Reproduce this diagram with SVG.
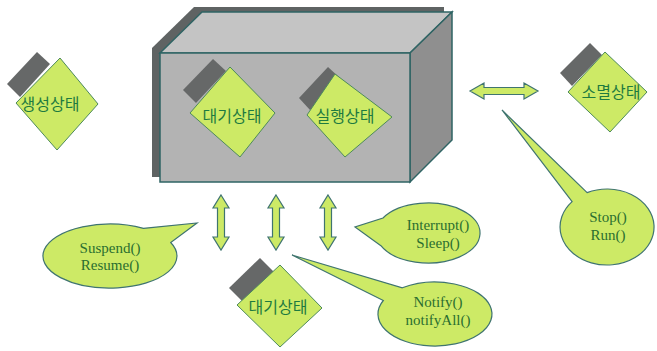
<svg xmlns="http://www.w3.org/2000/svg" width="657" height="351" viewBox="0 0 657 351">
  <style>
    .state { fill: #cdea66; stroke: #4d8a5c; stroke-width: 1; }
    .tab { fill: #666868; }
    .label { font-family: "Noto Sans CJK KR", "Noto Sans", sans-serif; font-size: 16px; fill: #1e7a40; text-anchor: middle; }
    .callout { fill: #cdea66; stroke: #3f7470; stroke-width: 1.2; }
    .note { font-family: "Liberation Serif", "DejaVu Serif", serif; font-size: 15px; fill: #2a6e30; text-anchor: middle; }
    .arrow { fill: #cdea66; stroke: #3f7470; stroke-width: 1.2; stroke-linejoin: miter; }
  </style>
  <defs>
    <!-- vertical double-headed block arrow, 55px tall, origin at top tip -->
    <path id="vArrow" d="M0 0 L8 13 L3.5 13 L3.5 42 L8 42 L0 55 L-8 42 L-3.5 42 L-3.5 13 L-8 13 Z"/>
  </defs>
  <rect width="657" height="351" fill="#ffffff"/>

  <!-- 3D box holding the active states -->
  <g id="container">
    <polygon points="152,48 194,7 444,7 444,135 402,177 152,177" fill="#5f6363"/>
    <polygon points="160,53 202,12 452,12 410,53" fill="#c4c4c4" stroke="#2f6464" stroke-width="1.5"/>
    <polygon points="410,53 452,12 452,140 410,182" fill="#8f8f8f" stroke="#2f6464" stroke-width="1.5"/>
    <rect x="160" y="53" width="250" height="129" fill="#b3b3b3" stroke="#2f6464" stroke-width="1.5"/>
  </g>

  <g id="state-new">
    <polygon class="tab" points="7,84 37,52 50,64 20,97"/>
    <polygon class="state" points="60,58 98,104 57,150 16,103"/>
    <text class="label" x="50" y="110">생성상태</text>
  </g>

  <g id="state-waiting">
    <polygon class="tab" points="183,90 213,59 226,71 196,103"/>
    <polygon class="state" points="230,67 275,113 240,157 190,113"/>
    <text class="label" x="232" y="122">대기상태</text>
  </g>

  <g id="state-running">
    <polygon class="tab" points="299,98 328,67 340,78 310,110"/>
    <polygon class="state" points="335,74 392,117 345,157 307,115"/>
    <text class="label" x="345" y="122">실행상태</text>
  </g>

  <g id="state-dead">
    <polygon class="tab" points="560,73 590,43 602,55 572,86"/>
    <polygon class="state" points="605,52 647,92 610,132 568,92"/>
    <text class="label" x="611" y="98">소멸상태</text>
  </g>

  <g id="state-blocked">
    <polygon class="tab" points="229,288 260,258 274,272 243,302"/>
    <polygon class="state" points="280,265 322,308 280,347 237,305"/>
    <text class="label" x="278" y="313">대기상태</text>
  </g>

  <g id="connectors">
    <use href="#vArrow" class="arrow" x="221" y="195"/>
    <use href="#vArrow" class="arrow" x="276" y="195"/>
    <use href="#vArrow" class="arrow" x="328" y="195"/>
    <polygon class="arrow" points="470,91 484,83 484,87.5 524,87.5 524,83 538,91 524,99 524,94.5 484,94.5 484,99"/>
  </g>

  <g id="note-suspend">
    <path class="callout" d="M143.5 228.3 L197 223 L170.7 242.5 A67 32 0 1 1 143.5 228.3 Z"/>
    <text class="note" x="110" y="253">Suspend()</text>
    <text class="note" x="110" y="270">Resume()</text>
  </g>

  <g id="note-interrupt">
    <path class="callout" d="M380.9 245.7 L355 227 L383 218 A52 30 0 1 1 380.9 245.7 Z"/>
    <text class="note" x="438" y="230">Interrupt()</text>
    <text class="note" x="438" y="248">Sleep()</text>
  </g>

  <g id="note-notify">
    <path class="callout" d="M383.3 300.5 L292 255 L402.3 287.8 A57 32 0 1 1 383.3 300.5 Z"/>
    <text class="note" x="438" y="307">Notify()</text>
    <text class="note" x="438" y="325">notifyAll()</text>
  </g>

  <g id="note-stop">
    <path class="callout" d="M572.1 201.6 L502 110 L587.1 192.6 A47 38 0 1 1 572.1 201.6 Z"/>
    <text class="note" x="608" y="222">Stop()</text>
    <text class="note" x="608" y="240">Run()</text>
  </g>
</svg>
